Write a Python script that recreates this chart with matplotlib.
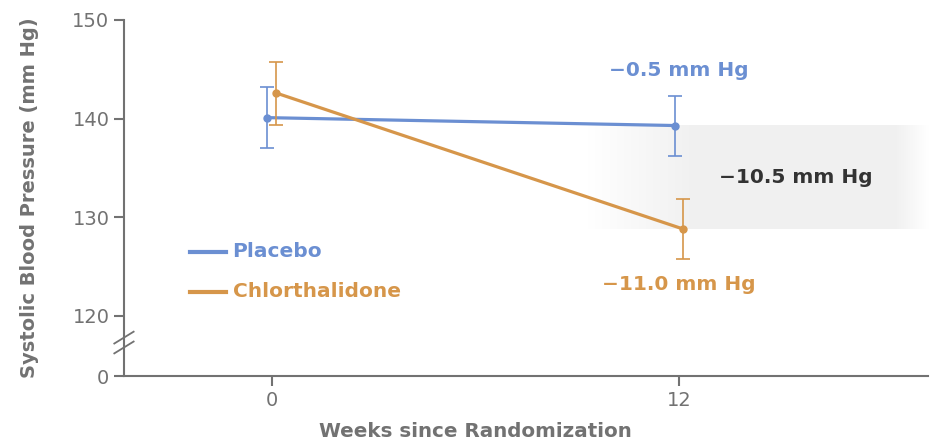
import numpy as np
import matplotlib
matplotlib.use('Agg')
import matplotlib.pyplot as plt

# data
weeks = [0, 12]
placebo_mean = [140.1, 139.3]
placebo_lo = [137.0, 136.2]
placebo_hi = [143.2, 142.3]
chlor_mean = [142.6, 128.8]
chlor_lo = [139.4, 125.8]
chlor_hi = [145.7, 131.9]
series_names = ['Placebo', 'Chlorthalidone']
change_labels = ['\u22120.5 mm Hg', '\u221211.0 mm Hg']
diff_label = '\u221210.5 mm Hg'
y_ticks = [120, 130, 140, 150]

BLUE = '#6b8fd2'
ORANGE = '#d6964a'
GRAY = '#727272'
DARK = '#333333'
FONT = 'DejaVu Sans'

# the axis is broken: the "0" tick sits just below 120
ZERO_POS = 113.9
BREAK_POS = 117.3
OFFSET = 0.13   # small horizontal dodge between the groups

plt.rcParams['font.family'] = [FONT]

fig = plt.figure(figsize=(9.3, 4.44), dpi=100)
ax = fig.add_axes([0.1333, 0.153, 0.865, 0.802])

x = np.array(weeks, dtype=float)
xp = x - OFFSET
xc = x + OFFSET

# shaded difference band with faded ends
x0, x1 = 9.3, 19.35
ramp = np.linspace(x0, x1, 400)
alpha = np.clip((ramp - x0) / 3.2, 0, 1) * np.clip((x1 - ramp) / 1.0, 0, 1)
img = np.zeros((1, len(ramp), 4))
img[..., :3] = 0.945
img[0, :, 3] = alpha
ax.imshow(img, extent=[x0, x1, chlor_mean[1], placebo_mean[1]], aspect='auto',
          interpolation='bilinear', zorder=0)

ax.errorbar(xp, placebo_mean,
            yerr=[np.subtract(placebo_mean, placebo_lo), np.subtract(placebo_hi, placebo_mean)],
            color=BLUE, lw=2.3, marker='o', ms=5, elinewidth=1.2, capsize=5, capthick=1.2,
            zorder=3)
ax.errorbar(xc, chlor_mean,
            yerr=[np.subtract(chlor_mean, chlor_lo), np.subtract(chlor_hi, chlor_mean)],
            color=ORANGE, lw=2.3, marker='o', ms=5, elinewidth=1.2, capsize=5, capthick=1.2,
            zorder=4)

xmin, xmax = -4.35, 19.35
ax.set_xlim(xmin, xmax)
ax.set_ylim(ZERO_POS, 150)

for s in ['top', 'right']:
    ax.spines[s].set_visible(False)
for s in ['left', 'bottom']:
    ax.spines[s].set_color(GRAY)
    ax.spines[s].set_linewidth(1.5)

ax.set_yticks([ZERO_POS] + y_ticks)
ax.set_yticklabels(['0'] + [str(t) for t in y_ticks])
ax.set_xticks(weeks)
ax.set_xticklabels([str(w) for w in weeks])
ax.tick_params(colors=GRAY, labelcolor=GRAY, labelsize=14, width=1.5, length=7)
ax.tick_params(axis='x', pad=4)

# break marks on the y axis
for dy in (-0.5, 0.5):
    ax.plot([-0.012, 0.012], [BREAK_POS + dy - 0.6, BREAK_POS + dy + 0.6],
            transform=ax.get_yaxis_transform(), color=GRAY, lw=1.3, clip_on=False)

ax.set_ylabel('Systolic Blood Pressure (mm Hg)', color=GRAY, fontsize=14,
              fontweight='bold', labelpad=24)
ax.set_xlabel('Weeks since Randomization', color=GRAY, fontsize=14.3,
              fontweight='bold')
# x label is centred between the two time points, not on the axes
mid = (weeks[0] + weeks[1]) / 2
ax.xaxis.set_label_coords((mid - xmin) / (xmax - xmin), -0.13)
ax.xaxis.label.set_va('top')

# legend drawn by hand
leg_y = [126.5, 122.45]
for name, col, yy in zip(series_names, [BLUE, ORANGE], leg_y):
    ax.plot([-2.4, -1.35], [yy, yy], color=col, lw=3)
    ax.text(-1.15, yy, name, color=col, fontsize=14.5, fontweight='bold', va='center')

ax.text(weeks[1], placebo_hi[1] + 2.6, change_labels[0], color=BLUE, fontsize=14.5,
        fontweight='bold', ha='center', va='center')
ax.text(weeks[1], chlor_lo[1] - 2.65, change_labels[1], color=ORANGE, fontsize=14.5,
        fontweight='bold', ha='center', va='center')
ax.text(15.45, (placebo_mean[1] + chlor_mean[1]) / 2, diff_label, color=DARK,
        fontsize=14.5, fontweight='bold', ha='center', va='center')

fig.savefig('out.png', dpi=100)
